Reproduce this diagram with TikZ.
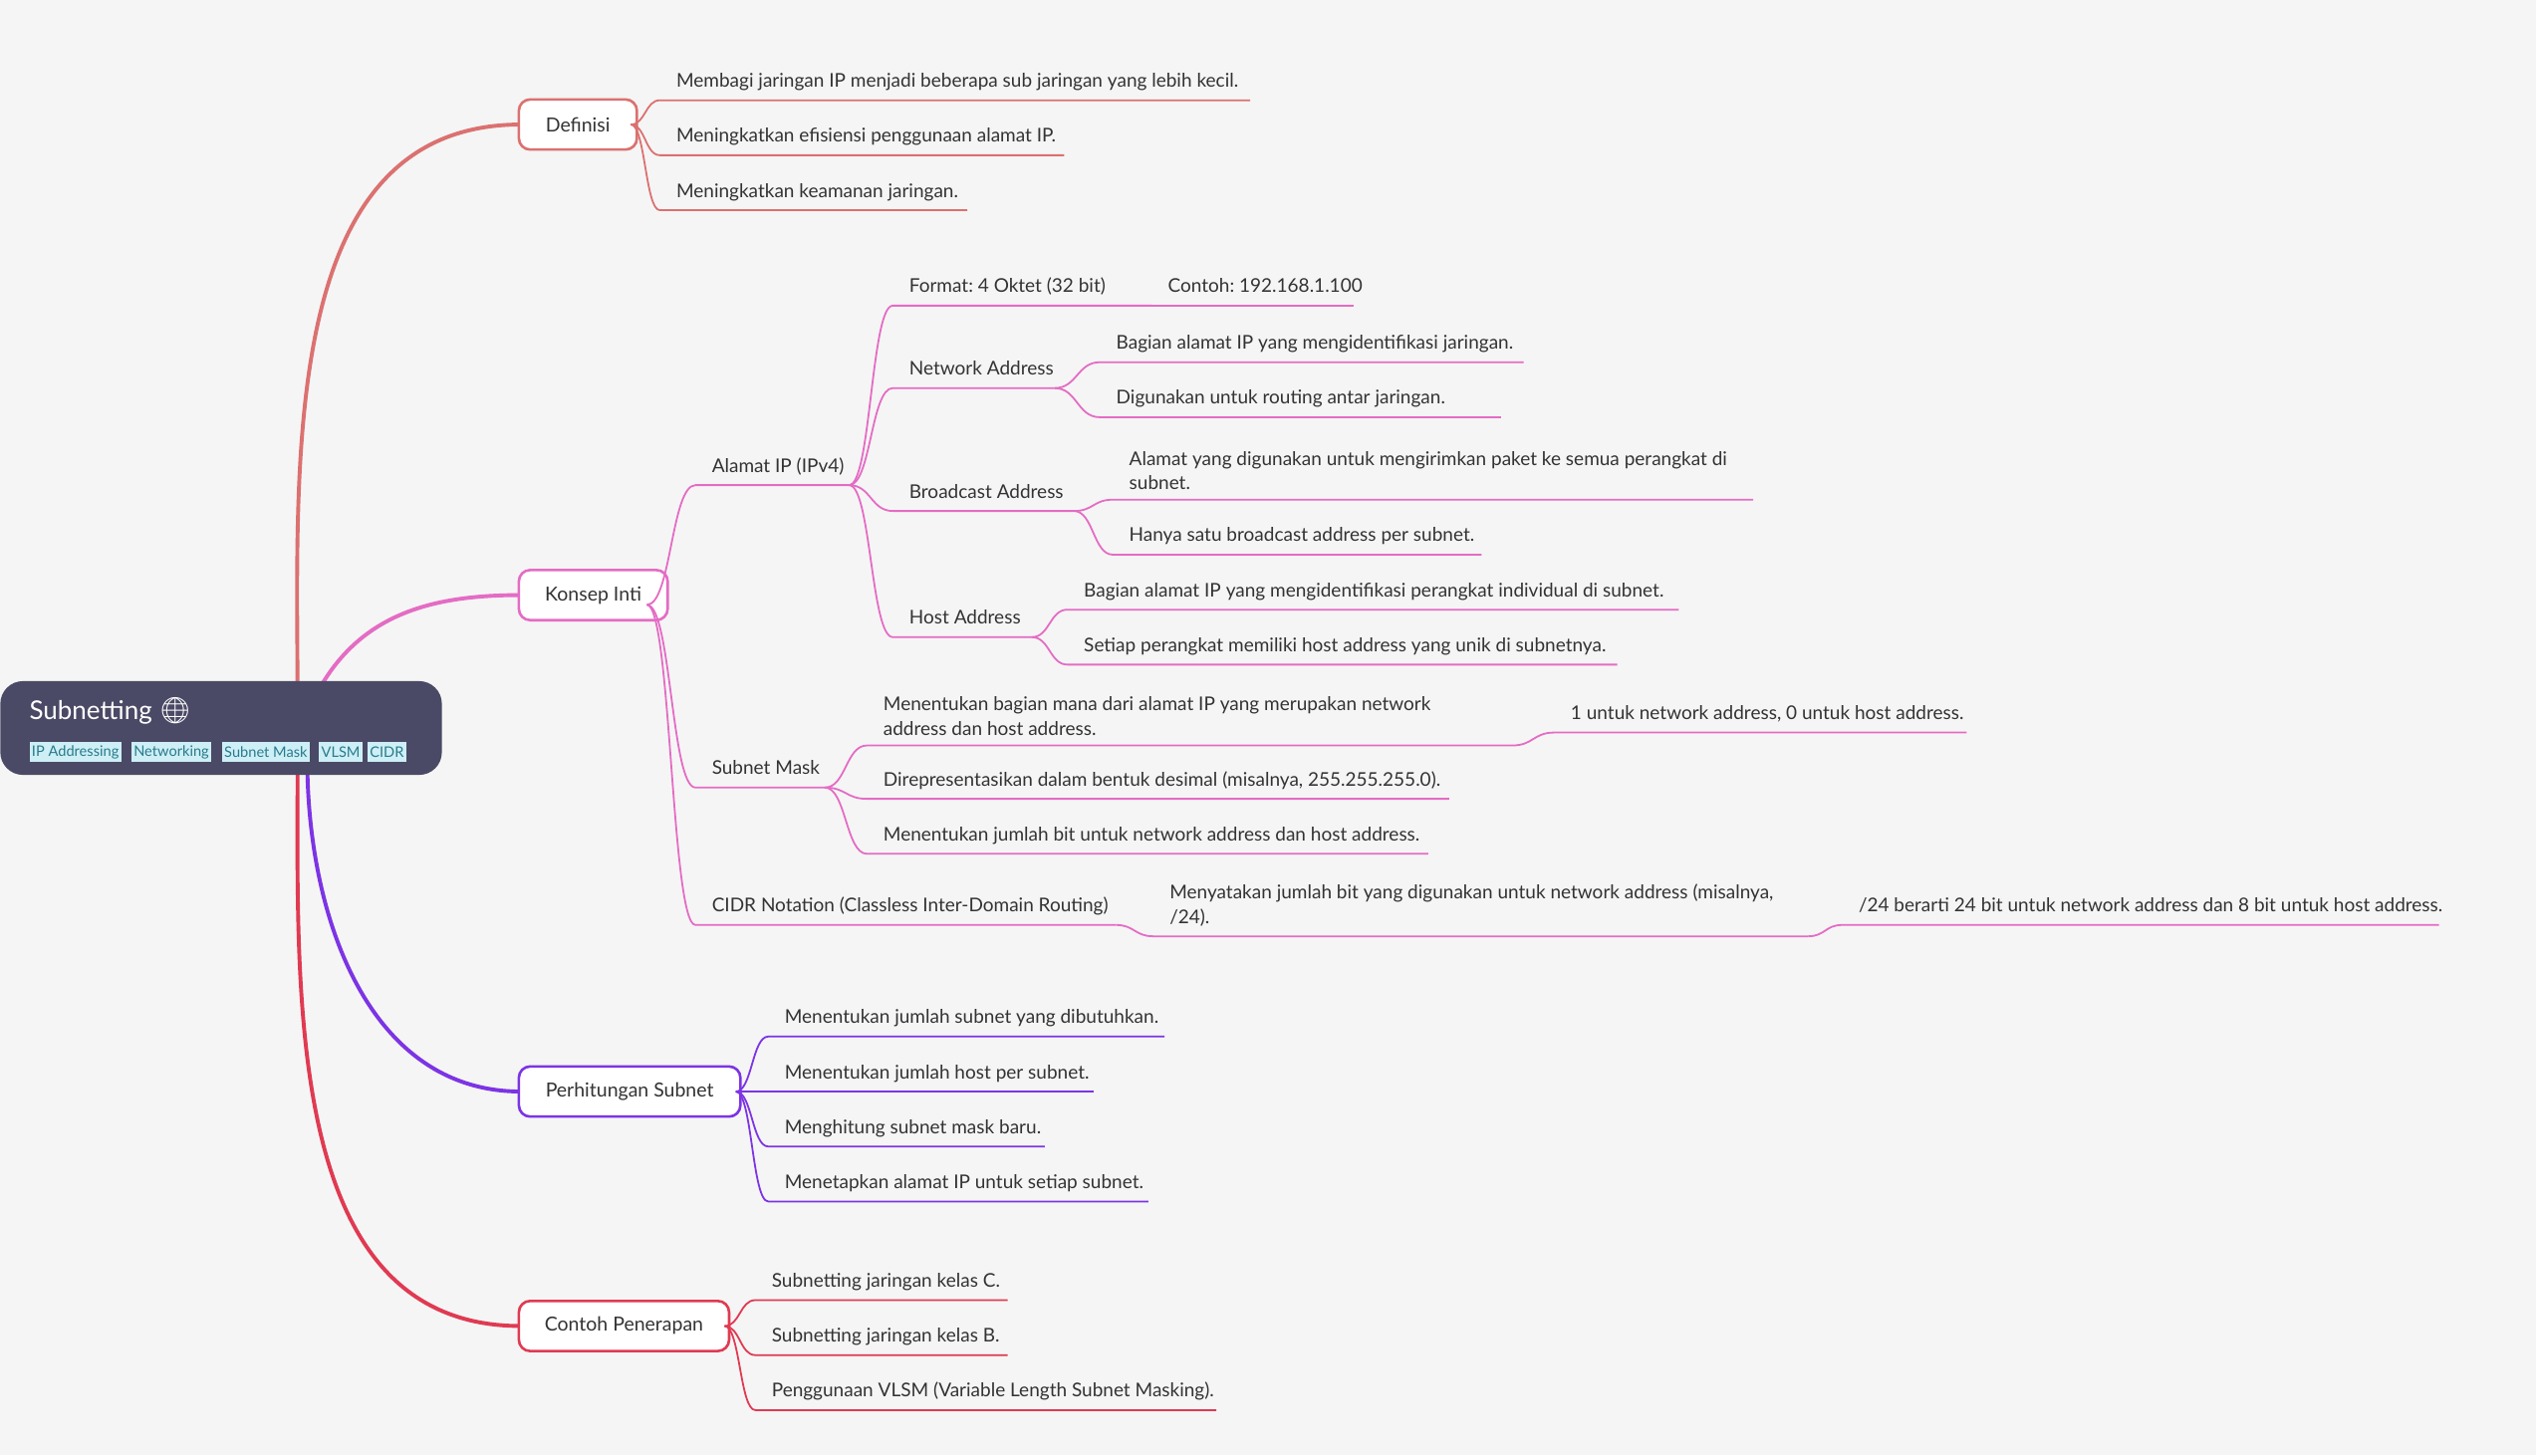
\documentclass[tikz,border=0pt]{standalone}
\usepackage{fontspec}
\setmainfont{Lato}
\newfontfamily\emojifont{Noto Emoji}
\usetikzlibrary{calc}
\definecolor{bg}{HTML}{F5F5F5}
\definecolor{cdef}{HTML}{DB7170}
\definecolor{ckon}{HTML}{E46CC4}
\definecolor{cper}{HTML}{7C34E4}
\definecolor{ccon}{HTML}{E03A52}
\definecolor{croot}{HTML}{4A4A66}
\definecolor{txt}{HTML}{333333}
\definecolor{tagf}{HTML}{CDEFF5}
\definecolor{tagt}{HTML}{2A7A8C}
\tikzset{
 leaftext/.style={inner sep=0pt,text=txt,font=\fontsize{11.7}{15}\selectfont},
 thinline/.style={line width=1.1pt},
 mainline/.style={line width=2.4pt},
 branchbox/.style={line width=1.6pt,fill=white,rounded corners=7pt,text=txt,font=\fontsize{12}{15}\selectfont,minimum height=31pt,inner sep=0pt,anchor=west},
 tag/.style={fill=tagf,text=tagt,font=\fontsize{9}{10}\selectfont,inner sep=1.5pt,anchor=west,minimum height=12pt},
 mm/.style={to path={let \p1=(\tikztostart), \p2=(\tikztotarget) in .. controls (\x1/2+\x2/2,\y1) and (\x1/2+\x2/2,\y2) .. (\tikztotarget)}}
}
\newcommand\leaf[7]{%
 \coordinate (#6s) at (#3,#4); \coordinate (#6e) at (#5,#4);
 \draw[#1,thinline] (#2) to[mm] (#6s) -- (#6e);
 \node[leaftext,anchor=base west] (#6) at (#3+10,#4-8) {#7};}
\newcommand\leafii[7]{%
 \coordinate (#6s) at (#3,#4); \coordinate (#6e) at (#5,#4);
 \draw[#1,thinline] (#2) to[mm] (#6s) -- (#6e);
 \node[leaftext,anchor=south west,align=left] (#6) at (#3+10,#4-6) {#7};}
\begin{document}
\frenchspacing
\begin{tikzpicture}[x=1pt,y=-1pt]
\fill[bg] (0,0) rectangle (1568,900);
\useasboundingbox (0,0) rectangle (1568,900);
% main curves
\coordinate (r1) at (184,440); \coordinate (r2) at (198,425);
\coordinate (r3) at (190,470); \coordinate (r4) at (184,470);
\coordinate (dw) at (322,77); \coordinate (kw) at (322,368);
\coordinate (pw) at (322,675); \coordinate (cw) at (322,820);
\draw[cdef,mainline] (r1) to[out=90,in=180] (dw);
\draw[ckon,mainline] (r2) to[out=60,in=180] (kw);
\draw[cper,mainline] (r3) to[out=-90,in=180] (pw);
\draw[ccon,mainline] (r4) to[out=-90,in=180] (cw);
% branch boxes
\node[branchbox,draw=cdef,minimum width=73pt] (def) at (320,77) {Definisi};
\node[branchbox,draw=ckon,minimum width=92pt] (kon) at (320,368) {Konsep Inti};
\node[branchbox,draw=cper,minimum width=137pt] (per) at (320,675) {Perhitungan Subnet};
\node[branchbox,draw=ccon,minimum width=130pt] (con) at (320,820) {Contoh Penerapan};
% root
\node[fill=croot,rounded corners=14pt,minimum width=273pt,minimum height=58pt,anchor=north west] (root) at (0,421) {};
\node[anchor=base west,text=white,inner sep=0pt,font=\fontsize{16}{18}\selectfont] (title) at (18,445) {Subnetting {\emojifont 🌐}};
\node[tag] (t1) at (18,465) {IP Addressing};
\node[tag] (t2) at (81,465) {Networking};
\node[tag] (t3) at (137,465) {Subnet Mask};
\node[tag] (t4) at (197,465) {VLSM};
\node[tag] (t5) at (227,465) {CIDR};
% Definisi
\coordinate (dp) at (390,77);
\leaf{cdef}{dp}{408}{62}{773}{d1}{Membagi jaringan IP menjadi beberapa sub jaringan yang lebih kecil.}
\leaf{cdef}{dp}{408}{96}{658}{d2}{Meningkatkan efisiensi penggunaan alamat IP.}
\leaf{cdef}{dp}{408}{130}{598}{d3}{Meningkatkan keamanan jaringan.}
% Konsep Inti
\coordinate (kp) at (400,374);
\leaf{ckon}{kp}{430}{300}{525}{ip}{Alamat IP (IPv4)}
\leaf{ckon}{kp}{430}{487}{510}{sm}{Subnet Mask}
\leaf{ckon}{kp}{430}{572}{690}{ci}{CIDR Notation (Classless Inter-Domain Routing)}
\leaf{ckon}{ipe}{552}{189}{712}{f}{Format: 4 Oktet (32 bit)}
\leaf{ckon}{fe}{712}{189}{837}{f1}{Contoh: 192.168.1.100}
\leaf{ckon}{ipe}{552}{240}{652}{na}{Network Address}
\leaf{ckon}{nae}{680}{224}{942}{na1}{Bagian alamat IP yang mengidentifikasi jaringan.}
\leaf{ckon}{nae}{680}{258}{928}{na2}{Digunakan untuk routing antar jaringan.}
\leaf{ckon}{ipe}{552}{316}{664}{ba}{Broadcast Address}
\leafii{ckon}{bae}{688}{309}{1084}{ba1}{Alamat yang digunakan untuk mengirimkan paket ke semua perangkat di\\subnet.}
\leaf{ckon}{bae}{688}{343}{916}{ba2}{Hanya satu broadcast address per subnet.}
\leaf{ckon}{ipe}{552}{394}{638}{ha}{Host Address}
\leaf{ckon}{hae}{660}{377}{1038}{ha1}{Bagian alamat IP yang mengidentifikasi perangkat individual di subnet.}
\leaf{ckon}{hae}{660}{411}{1000}{ha2}{Setiap perangkat memiliki host address yang unik di subnetnya.}
\leafii{ckon}{sme}{536}{461}{935}{sm1}{Menentukan bagian mana dari alamat IP yang merupakan network\\address dan host address.}
\leaf{ckon}{sm1e}{961}{453}{1216}{sm11}{1 untuk network address, 0 untuk host address.}
\leaf{ckon}{sme}{536}{494}{896}{sm2}{Direpresentasikan dalam bentuk desimal (misalnya, 255.255.255.0).}
\leaf{ckon}{sme}{536}{528}{883}{sm3}{Menentukan jumlah bit untuk network address dan host address.}
\leafii{ckon}{cie}{713}{579}{1118}{ci1}{Menyatakan jumlah bit yang digunakan untuk network address (misalnya,\\/24).}
\leaf{ckon}{ci1e}{1139}{572}{1508}{ci11}{/24 berarti 24 bit untuk network address dan 8 bit untuk host address.}
% Perhitungan
\coordinate (pp) at (455,675);
\leaf{cper}{pp}{475}{641}{720}{p1}{Menentukan jumlah subnet yang dibutuhkan.}
\leaf{cper}{pp}{475}{675}{676}{p2}{Menentukan jumlah host per subnet.}
\leaf{cper}{pp}{475}{709}{646}{p3}{Menghitung subnet mask baru.}
\leaf{cper}{pp}{475}{743}{710}{p4}{Menetapkan alamat IP untuk setiap subnet.}
% Contoh
\coordinate (cp) at (448,820);
\leaf{ccon}{cp}{467}{804}{623}{c1}{Subnetting jaringan kelas C.}
\leaf{ccon}{cp}{467}{838}{623}{c2}{Subnetting jaringan kelas B.}
\leaf{ccon}{cp}{467}{872}{752}{c3}{Penggunaan VLSM (Variable Length Subnet Masking).}
\end{tikzpicture}
\end{document}
